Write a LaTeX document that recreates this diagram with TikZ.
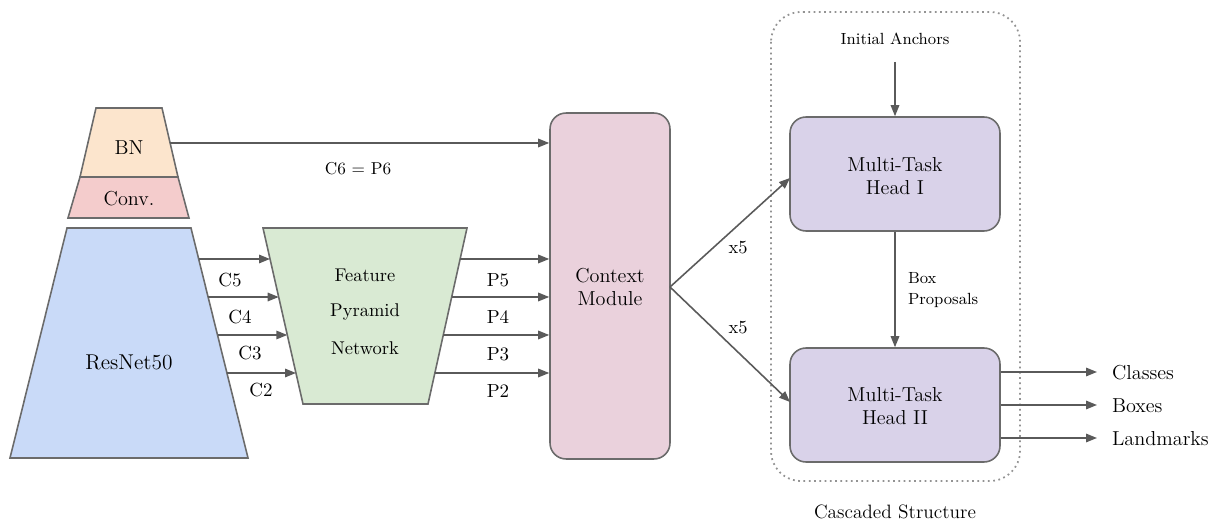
\documentclass[tikz,border=0pt]{standalone}
\usetikzlibrary{arrows.meta}
\definecolor{bnfill}{HTML}{FCE5CD}
\definecolor{convfill}{HTML}{F4CCCC}
\definecolor{resfill}{HTML}{C9DAF8}
\definecolor{fpnfill}{HTML}{D9EAD3}
\definecolor{ctxfill}{HTML}{EAD1DC}
\definecolor{headfill}{HTML}{D9D2E9}
\definecolor{edge}{HTML}{6B6B6B}
\definecolor{arr}{HTML}{5A5A5A}
\tikzset{
  shapeline/.style={draw=edge, line width=0.9pt},
  conn/.style={draw=arr, line width=0.9pt, -{Triangle[length=0.22cm,width=0.17cm]}},
  rbox/.style={shapeline, rounded corners=0.32cm, inner sep=0pt},
  lbl/.style={font=\fontsize{11.5}{13.5}\selectfont, align=center, inner sep=1pt},
  slbl/.style={font=\fontsize{9.2}{11.5}\selectfont, align=left, inner sep=1pt},
}
\begin{document}
\begin{tikzpicture}[x=0.02cm, y=-0.02cm]
\useasboundingbox (0,0) rectangle (1214,523);

% trapezoids
\filldraw[shapeline, fill=bnfill] (96,108) -- (162,108) -- (178,177) -- (80,177) -- cycle;
\filldraw[shapeline, fill=convfill] (80,177) -- (178,177) -- (189,218) -- (68,218) -- cycle;
\filldraw[shapeline, fill=resfill] (67,228) -- (191,228) -- (248,458) -- (10,458) -- cycle;
\filldraw[shapeline, fill=fpnfill] (263,228) -- (467,228) -- (428,404) -- (303,404) -- cycle;

\node[lbl] (bn) at (129,148) {BN};
\node[lbl] (conv) at (129,199) {Conv.};
\node[lbl, font=\fontsize{12.2}{14}\selectfont] (res) at (129,362) {ResNet50};
\node[lbl, font=\fontsize{10.5}{13}\selectfont] (fpn1) at (365,275) {Feature};
\node[lbl, font=\fontsize{10.5}{13}\selectfont] (fpn2) at (365,312) {Pyramid};
\node[lbl, font=\fontsize{10.5}{13}\selectfont] (fpn3) at (365,348) {Network};

% context module
\node[rbox, fill=ctxfill, minimum width=2.4cm, minimum height=6.92cm] (ctx) at (610,286) {};
\node[lbl] (ctxt) at (610,287) {Context\\Module};

% cascaded container
\draw[draw=gray!85, line width=1pt, dotted, rounded corners=0.6cm] (771,12) rectangle (1020,481);
\node[rbox, fill=headfill, minimum width=4.2cm, minimum height=2.28cm] (h1) at (895,174) {};
\node[lbl] (h1t) at (895,176) {Multi-Task\\Head I};
\node[rbox, fill=headfill, minimum width=4.2cm, minimum height=2.28cm] (h2) at (895,405) {};
\node[lbl] (h2t) at (895,406) {Multi-Task\\Head II};

\node[slbl] (anch) at (895,39) {Initial Anchors};
\coordinate (anchs) at (895,62);
\draw[conn] (anchs) -- (h1.north);
\draw[conn] (h1.south) -- (h2.north);
\node[slbl, anchor=west] (bp) at (906,290) {Box\\Proposals};

\node[lbl, font=\fontsize{11}{13}\selectfont] (casc) at (895,512) {Cascaded Structure};

% BN -> context
\coordinate (bnr) at (170,143);
\draw[conn] (bnr) -- (ctx.west |- bnr);
\node[lbl, font=\fontsize{9.8}{12}\selectfont] (c6) at (358,169) {C6 = P6};

% C arrows
\coordinate (c5s) at (198.7,259); \coordinate (c5e) at (270,259);
\coordinate (c4s) at (208.1,297); \coordinate (c4e) at (278.7,297);
\coordinate (c3s) at (217.5,335); \coordinate (c3e) at (287.3,335);
\coordinate (c2s) at (226.9,373); \coordinate (c2e) at (296,373);
\draw[conn] (c5s) -- (c5e);
\draw[conn] (c4s) -- (c4e);
\draw[conn] (c3s) -- (c3e);
\draw[conn] (c2s) -- (c2e);
\node[lbl, font=\fontsize{10.8}{13}\selectfont] (lc5) at (230,280) {C5};
\node[lbl, font=\fontsize{10.8}{13}\selectfont] (lc4) at (240,317) {C4};
\node[lbl, font=\fontsize{10.8}{13}\selectfont] (lc3) at (250,353) {C3};
\node[lbl, font=\fontsize{10.8}{13}\selectfont] (lc2) at (261,390) {C2};

% P arrows
\coordinate (p5s) at (460.1,259);
\coordinate (p4s) at (451.7,297);
\coordinate (p3s) at (443.2,335);
\coordinate (p2s) at (434.8,373);
\draw[conn] (p5s) -- (ctx.west |- p5s);
\draw[conn] (p4s) -- (ctx.west |- p4s);
\draw[conn] (p3s) -- (ctx.west |- p3s);
\draw[conn] (p2s) -- (ctx.west |- p2s);
\node[lbl, font=\fontsize{10.8}{13}\selectfont] (lp5) at (498,280) {P5};
\node[lbl, font=\fontsize{10.8}{13}\selectfont] (lp4) at (498,317) {P4};
\node[lbl, font=\fontsize{10.8}{13}\selectfont] (lp3) at (498,354) {P3};
\node[lbl, font=\fontsize{10.8}{13}\selectfont] (lp2) at (498,391) {P2};

% context -> heads
\coordinate (ctxr) at (670,287);
\coordinate (h1in) at (790,178);
\coordinate (h2in) at (790,402);
\draw[conn] (ctxr) -- (h1in);
\draw[conn] (ctxr) -- (h2in);
\node[lbl, font=\fontsize{10.5}{13}\selectfont] (x5a) at (738,248) {x5};
\node[lbl, font=\fontsize{10.5}{13}\selectfont] (x5b) at (738,328) {x5};

% outputs
\node[lbl, anchor=west] (cls) at (1110,373) {Classes};
\node[lbl, anchor=west] (box) at (1110,406) {Boxes};
\node[lbl, anchor=west] (lmk) at (1110,439) {Landmarks};
\draw[conn] (h2.east |- 0,372) -- (1097,372);
\draw[conn] (h2.east |- 0,405) -- (1097,405);
\draw[conn] (h2.east |- 0,438) -- (1097,438);
\end{tikzpicture}
\end{document}
